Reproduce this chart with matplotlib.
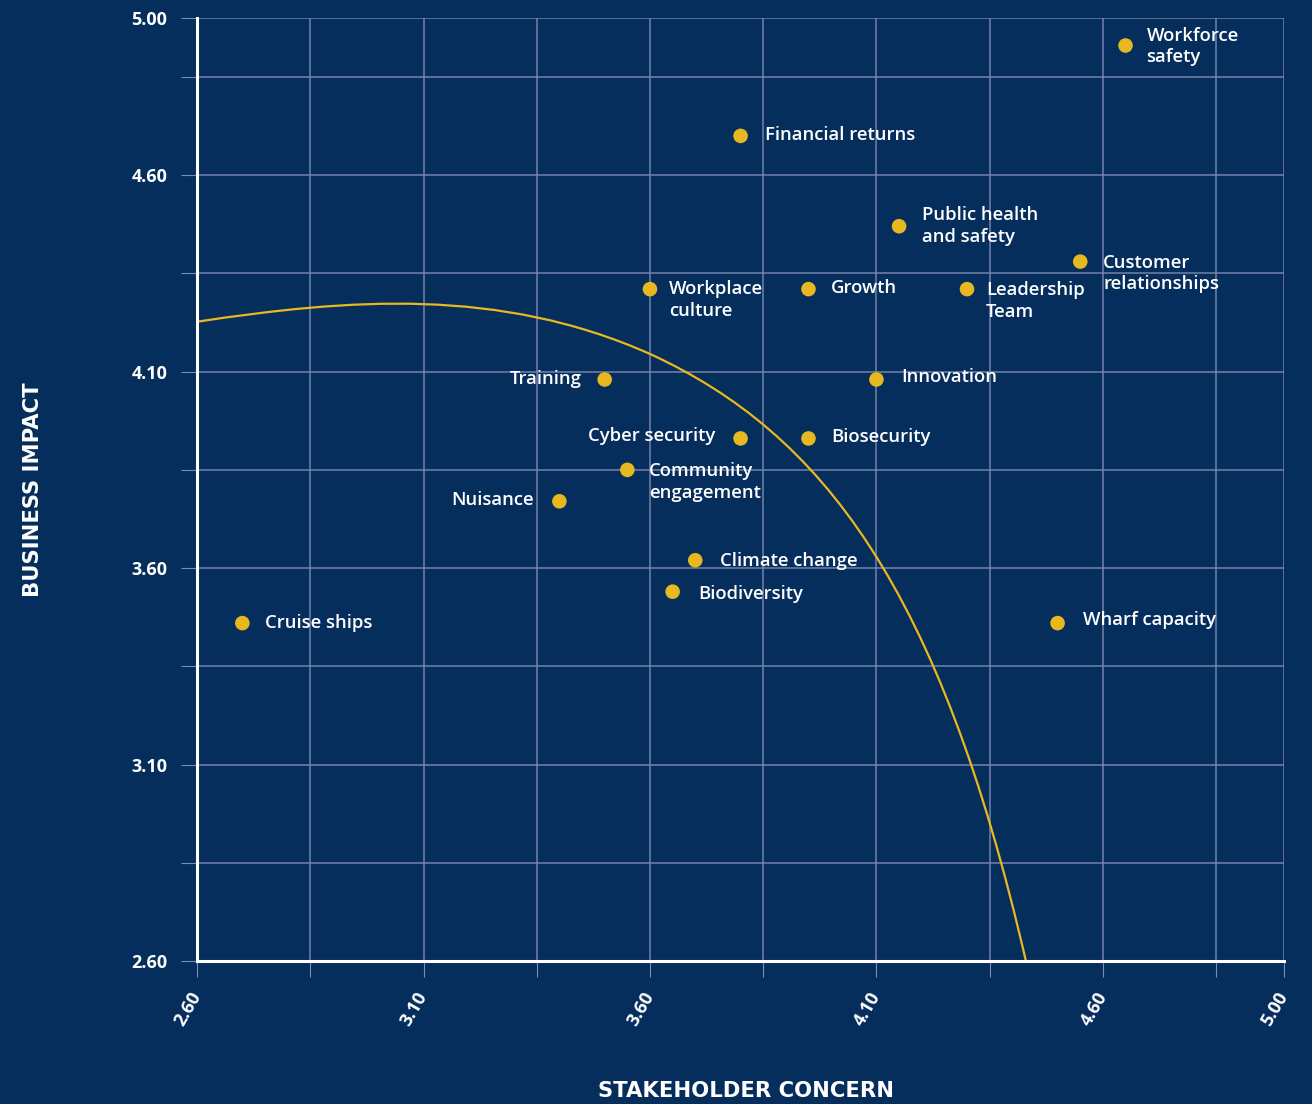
import matplotlib
matplotlib.use("Agg")
import matplotlib.pyplot as plt
from matplotlib.path import Path
from matplotlib.patches import PathPatch

# materiality topics: stakeholder concern (x) vs business impact (y)
topics = ["Workforce\nsafety", "Financial returns", "Public health\nand safety",
          "Customer\nrelationships", "Workplace\nculture", "Growth",
          "Leadership\nTeam", "Training", "Innovation", "Cyber security",
          "Biosecurity", "Community\nengagement", "Nuisance", "Climate change",
          "Biodiversity", "Cruise ships", "Wharf capacity"]
concern = [4.65, 3.80, 4.15, 4.55, 3.60, 3.95, 4.30, 3.50, 4.10, 3.80,
           3.95, 3.55, 3.40, 3.70, 3.65, 2.70, 4.50]
impact = [4.93, 4.70, 4.47, 4.38, 4.31, 4.31, 4.31, 4.08, 4.08, 3.93,
          3.93, 3.85, 3.77, 3.62, 3.54, 3.46, 3.46]

# label placement: offset from the dot in pixels, and which side
label_dx = [21, 24, 23, 23, 19, 22, 19, -23, 25, -25, 23, 22, -26, 25, 26, 23, 25]
label_dy = [-1, 1, 0, -12, -11, 1, -12, 0, 2, 2, 1, -12, 1, -1, -2, 0, 3]

# threshold curve (two cubic bezier segments)
curve_x = [2.60, 2.933, 3.267, 3.60, 3.98, 4.24, 4.43]
curve_y = [4.227, 4.285, 4.316, 4.145, 3.944, 3.55, 2.60]

major_ticks = [2.60, 3.10, 3.60, 4.10, 4.60, 5.00]
minor_ticks = [2.85, 3.35, 3.85, 4.35, 4.85]

navy = "#052e5c"
gold = "#e8b820"
grid = "#7f8ab0"
font = ["Open Sans", "DejaVu Sans"]
heavy = ["DejaVu Sans"]

fig = plt.figure(figsize=(13.12, 11.04), dpi=100, facecolor=navy)
ax = fig.add_axes([0.1502, 0.1295, 0.8285, 0.8542], facecolor=navy)

ax.set_xlim(2.60, 5.00)
ax.set_ylim(2.60, 5.00)
for axis in (ax.xaxis, ax.yaxis):
    axis.set_ticks(major_ticks)
    axis.set_ticks(minor_ticks, minor=True)
ax.set_xticklabels([f"{t:.2f}" for t in major_ticks])
ax.set_yticklabels([f"{t:.2f}" for t in major_ticks])
ax.grid(True, which="both", color=grid, lw=1.1, alpha=0.9)
ax.tick_params(which="both", length=11.5, width=0.8, color=grid, direction="out")
ax.tick_params(axis="y", pad=10)
ax.tick_params(axis="x", pad=12)

for lab in ax.get_yticklabels() + ax.get_xticklabels():
    lab.set_fontfamily(font)
    lab.set_fontweight("bold")
    lab.set_fontsize(13)
    lab.set_color("white")
for lab in ax.get_xticklabels():
    lab.set_rotation(60)
    lab.set_rotation_mode("anchor")
    lab.set_ha("right")
    lab.set_va("center")

for side in ("top", "right"):
    ax.spines[side].set_visible(False)
for side in ("left", "bottom"):
    ax.spines[side].set_color("white")
    ax.spines[side].set_linewidth(2.2)
    ax.spines[side].set_zorder(3)

codes = [Path.MOVETO] + [Path.CURVE4] * 6
curve = PathPatch(Path(list(zip(curve_x, curve_y)), codes), facecolor="none",
                  edgecolor=gold, lw=1.6, zorder=2)
ax.add_patch(curve)

ax.scatter(concern, impact, s=110, color=gold, edgecolors="none", zorder=4)

for name, x, y, dx, dy in zip(topics, concern, impact, label_dx, label_dy):
    ax.annotate(name, (x, y), xytext=(dx, dy), textcoords="offset pixels",
                ha="left" if dx > 0 else "right", va="center",
                color="white", fontsize=13.3, fontfamily=font,
                fontweight="semibold", linespacing=1.26, zorder=5)

ax.set_xlabel("STAKEHOLDER CONCERN", color="white", fontsize=15.2,
              fontfamily=heavy, fontweight="bold", va="center")
ax.set_ylabel("BUSINESS IMPACT", color="white", fontsize=15.2,
              fontfamily=heavy, fontweight="bold", va="center")
ax.xaxis.set_label_coords(0.505, -0.1373)
ax.yaxis.set_label_coords(-0.151, 0.5)

fig.savefig("out.png", dpi=100, facecolor=navy)
